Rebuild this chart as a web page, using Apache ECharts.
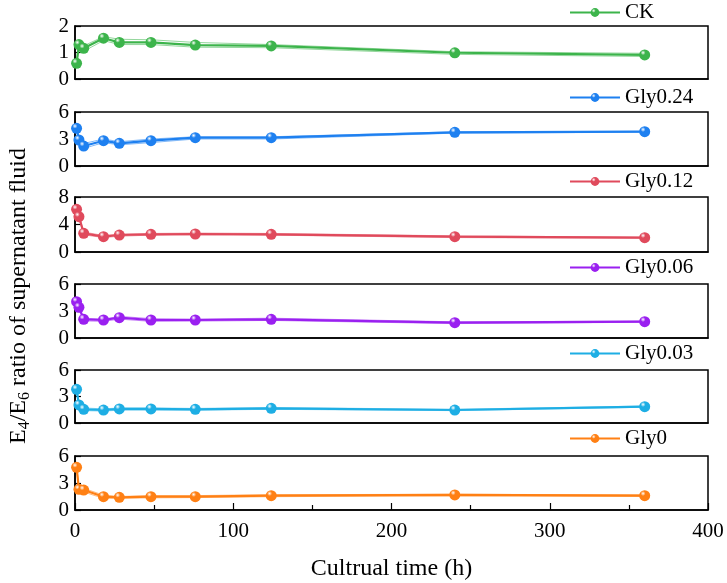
<!DOCTYPE html>
<html><head><meta charset="utf-8">
<script src="https://cdn.jsdelivr.net/npm/echarts@6/dist/echarts.min.js"></script>
<style>html,body{margin:0;padding:0;background:#fff}#c{width:727px;height:583px}</style>
</head><body><div id="c"></div>
<script>
const times = [1, 2.5, 5.5, 18, 28, 48, 76, 124, 240, 360];
const names = ['CK', 'Gly0.24', 'Gly0.12', 'Gly0.06', 'Gly0.03', 'Gly0'];
const colors = ['#3cb44b', '#1e80f0', '#e04a5c', '#9a20f0', '#1eaee4', '#ff8014'];
const yMax = [2, 6, 8, 6, 6, 6];
const yTicks = [[0,1,2],[0,3,6],[0,4,8],[0,3,6],[0,3,6],[0,3,6]];
const xTicks = [0, 100, 200, 300, 400];

const ck      = [0.59, 1.30, 1.16, 1.54, 1.38, 1.38, 1.28, 1.25, 0.99, 0.91];
const ckUp    = [0.70, 1.40, 1.25, 1.60, 1.50, 1.48, 1.38, 1.30, 1.03, 0.97];
const ckLo    = [0.55, 1.20, 1.05, 1.45, 1.30, 1.30, 1.20, 1.18, 0.93, 0.85];
const g024    = [4.19, 2.89, 2.22, 2.81, 2.52, 2.81, 3.15, 3.15, 3.74, 3.81];
const g024Up  = [4.40, 3.10, 2.50, 3.00, 2.70, 3.00, 3.25, 3.25, 3.80, 3.85];
const g024Lo  = [3.90, 2.70, 1.95, 2.60, 2.35, 2.60, 3.00, 3.00, 3.65, 3.75];
const g012    = [6.21, 5.14, 2.72, 2.23, 2.47, 2.57, 2.62, 2.57, 2.23, 2.08];
const g012Up  = [6.50, 5.40, 2.90, 2.40, 2.60, 2.70, 2.75, 2.70, 2.35, 2.15];
const g012Lo  = [6.00, 4.90, 2.50, 2.10, 2.30, 2.45, 2.50, 2.45, 2.10, 2.00];
const g006    = [4.03, 3.41, 2.08, 2.00, 2.26, 2.00, 2.00, 2.08, 1.70, 1.81];
const g006Up  = [4.20, 3.60, 2.20, 2.10, 2.40, 2.15, 2.10, 2.20, 1.80, 1.88];
const g006Lo  = [3.80, 3.20, 1.90, 1.85, 2.10, 1.85, 1.88, 1.95, 1.60, 1.75];
const g003    = [3.81, 2.04, 1.55, 1.47, 1.59, 1.59, 1.55, 1.66, 1.47, 1.85];
const g003Up  = [4.00, 2.30, 1.70, 1.60, 1.70, 1.70, 1.65, 1.75, 1.55, 1.92];
const g003Lo  = [3.50, 1.80, 1.40, 1.35, 1.45, 1.45, 1.45, 1.55, 1.40, 1.78];
const g0      = [4.74, 2.30, 2.22, 1.48, 1.41, 1.48, 1.48, 1.59, 1.67, 1.59];
const g0Up    = [4.90, 2.50, 2.40, 1.65, 1.50, 1.60, 1.60, 1.70, 1.75, 1.68];
const g0Lo    = [4.50, 2.10, 2.00, 1.30, 1.30, 1.35, 1.38, 1.48, 1.58, 1.50];

const mains = [ck, g024, g012, g006, g003, g0];
const ups = [ckUp, g024Up, g012Up, g006Up, g003Up, g0Up];
const los = [ckLo, g024Lo, g012Lo, g006Lo, g003Lo, g0Lo];

const tops = [26, 112, 197, 284, 370, 456];
const heights = [53, 54, 55, 54, 53, 54];
const legendTops = [2, 87, 171, 257, 343, 428];

const FONT = 'Liberation Serif';
const pair = a => a.map((v, i) => [times[i], v]);
function ballColor(c) {
  return new echarts.graphic.RadialGradient(0.35, 0.3, 0.75, [
    {offset: 0, color: '#ffffff'}, {offset: 0.3, color: c}, {offset: 1, color: c}
  ]);
}

const grid = [], xAxis = [], yAxis = [], series = [], legend = [];
for (let i = 0; i < 6; i++) {
  const last = i === 5;
  grid.push({left: 75, right: 19, top: tops[i], height: heights[i], show: true,
    borderColor: '#000', borderWidth: 1.5, containLabel: false});
  xAxis.push({type: 'value', gridIndex: i, min: 0, max: 400, interval: 100,
    axisLine: {show: true, onZero: false, lineStyle: {color: '#000', width: 1.5}},
    axisTick: {show: last, inside: true, length: 7, lineStyle: {color: '#000', width: 1.2}},
    minorTick: {show: last, splitNumber: 2, length: 5, lineStyle: {color: '#000', width: 1.2}},
    axisLabel: {show: last, color: '#000', fontFamily: FONT, fontSize: 21, margin: 11},
    splitLine: {show: false},
    name: last ? 'Cultrual time (h)' : '', nameLocation: 'middle', nameGap: 47,
    nameTextStyle: {color: '#000', fontFamily: FONT, fontSize: 24}});
  yAxis.push({type: 'value', gridIndex: i, min: 0, max: yMax[i],
    axisLine: {show: true, lineStyle: {color: '#000', width: 1.5}},
    axisTick: {show: true, inside: true, length: 6, customValues: yTicks[i], lineStyle: {color: '#000', width: 1.2}},
    axisLabel: {show: true, customValues: yTicks[i], color: '#000', fontFamily: FONT, fontSize: 21, margin: 6},
    splitLine: {show: false}});
  const c = colors[i];
  series.push({name: names[i] + ' upper', type: 'line', xAxisIndex: i, yAxisIndex: i, data: pair(ups[i]),
    showSymbol: false, symbol: 'none', lineStyle: {color: c, width: 1, opacity: 0.55}, silent: true, z: 2});
  series.push({name: names[i] + ' lower', type: 'line', xAxisIndex: i, yAxisIndex: i, data: pair(los[i]),
    showSymbol: false, symbol: 'none', lineStyle: {color: c, width: 1, opacity: 0.55}, silent: true, z: 2});
  series.push({name: names[i], type: 'line', xAxisIndex: i, yAxisIndex: i, data: pair(mains[i]),
    symbol: 'circle', symbolSize: 11, color: c,
    lineStyle: {color: c, width: 2.2}, itemStyle: {color: ballColor(c)}, z: 3});
  legend.push({data: [{name: names[i], itemStyle: {color: ballColor(c)}}], left: 569, top: legendTops[i],
    padding: 0, itemWidth: 50, itemHeight: 11, itemGap: 6, selectedMode: false,
    textStyle: {color: '#000', fontFamily: FONT, fontSize: 21, padding: [0, 0, 0, 0]}});
}

const chart = echarts.init(document.getElementById('c'), null, {renderer: 'canvas'});
chart.setOption({
  animation: false,
  backgroundColor: '#fff',
  grid, xAxis, yAxis, series, legend,
  graphic: [{
    type: 'text', rotation: Math.PI / 2,
    x: 19, y: 296,
    style: {
      text: '{n|E}{s|4}{n|/E}{s|6}{n| ratio of supernatant fluid}',
      rich: {
        n: {fontFamily: FONT, fontSize: 24, fill: '#000', color: '#000'},
        s: {fontFamily: FONT, fontSize: 16, fill: '#000', color: '#000', padding: [12, 0, 0, 0]}
      },
      textAlign: 'center', textVerticalAlign: 'middle', align: 'center', verticalAlign: 'middle'
    }
  }]
});
</script></body></html>
